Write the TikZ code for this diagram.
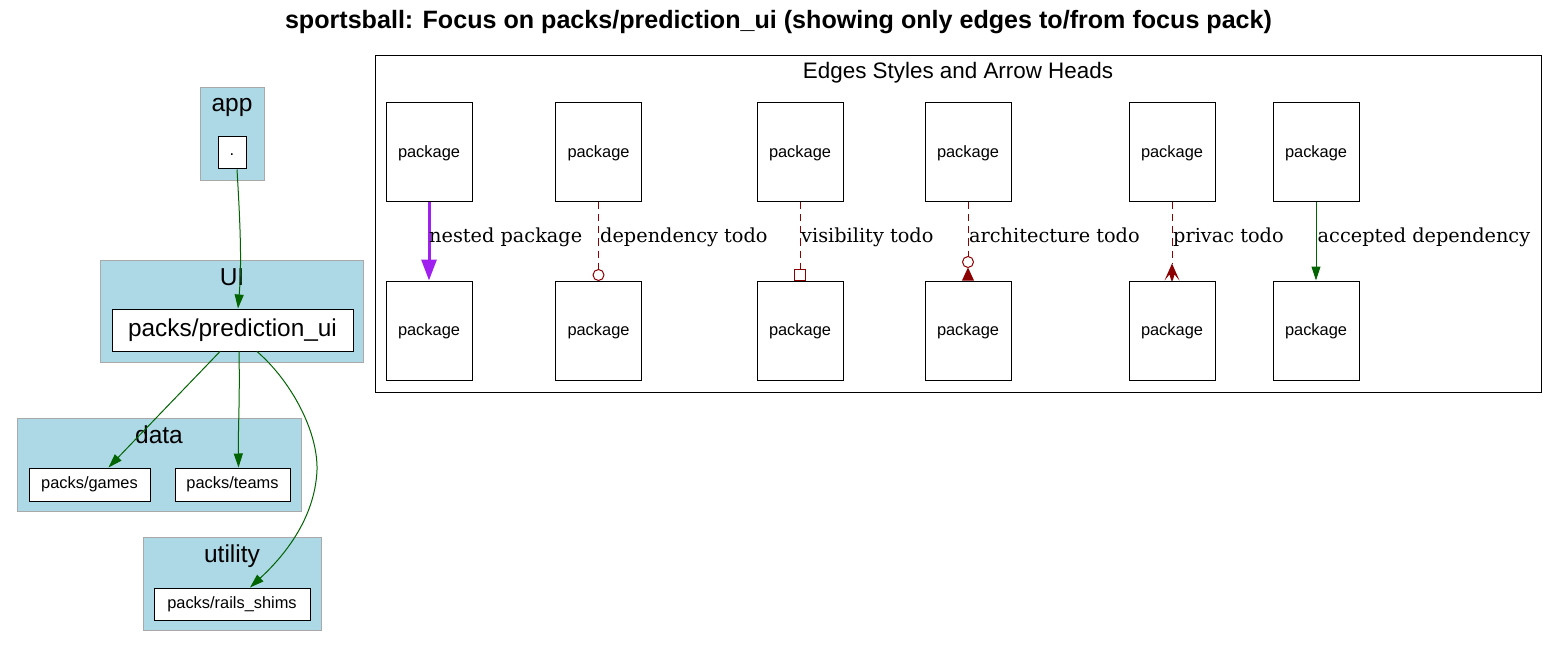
\documentclass[tikz,border=0pt]{standalone}
\usepackage{fontspec}
\setmainfont{Liberation Serif}
\setsansfont{Liberation Sans}
\newfontfamily\lblfont{DejaVu Serif}
\usetikzlibrary{arrows.meta}
\definecolor{clfill}{HTML}{ADD8E6}
\definecolor{clborder}{HTML}{A9A9A9}
\definecolor{okgreen}{HTML}{006400}
\definecolor{todored}{HTML}{8B0000}
\definecolor{nestpurple}{HTML}{A020F0}
\tikzset{
  cluster/.style={draw=clborder, fill=clfill, line width=1.3pt, inner sep=0, anchor=north west},
  cllabel/.style={font=\sffamily\fontsize{24.5}{28}\selectfont, anchor=base, inner sep=0},
  pack/.style={draw=black, fill=white, line width=1pt, inner sep=0, font=\sffamily\fontsize{16.4}{19}\selectfont},
  bigpack/.style={pack, font=\sffamily\fontsize{24.4}{28}\selectfont},
  legpack/.style={pack, minimum width=86pt, minimum height=99pt, text depth=0.1em},
  okedge/.style={draw=okgreen, line width=1pt, -{Triangle[length=14pt,width=9pt]}, okgreen},
  todoedge/.style={draw=todored, line width=1pt, dash pattern=on 7pt off 5pt},
  todotip/.style={draw=todored, line width=1pt},
  nestedge/.style={draw=nestpurple, line width=3pt, -{Triangle[length=21pt,width=15pt]}, nestpurple},
  edgelbl/.style={font=\lblfont\fontsize{19.3}{23}\selectfont, anchor=base west, inner sep=0},
}
\begin{document}
\begin{tikzpicture}[x=1pt, y=-1pt]
\useasboundingbox (0,0) rectangle (1558,647);
\fill[white] (0,0) rectangle (1558,647);

% title
\node[font=\sffamily\bfseries\fontsize{25.1}{29}\selectfont, anchor=base, inner sep=0] (title) at (778.5,29)
  {sportsball: Focus on packs/prediction\_ui (showing only edges to/from focus pack)};

% clusters
\node[cluster, minimum width=64pt, minimum height=93pt] (capp) at (200,87) {};
\node[cllabel] (lapp) at (232,112) {app};
\node[cluster, minimum width=263pt, minimum height=102pt] (cui) at (100,260) {};
\node[cllabel] (lui) at (232,285) {UI};
\node[cluster, minimum width=284pt, minimum height=93pt] (cdata) at (17,418) {};
\node[cllabel] (ldata) at (159,443.5) {data};
\node[cluster, minimum width=178pt, minimum height=93pt] (cutil) at (143,537) {};
\node[cllabel] (lutil) at (232,562.5) {utility};

% packages
\node[pack, minimum width=28pt, minimum height=32pt, text height=0.72em, text depth=0.2em] (dot) at (232,153) {.};
\node[bigpack, minimum width=241pt, minimum height=42pt] (pred) at (232.5,330) {packs/prediction\_ui};
\node[pack, minimum width=121pt, minimum height=33pt] (games) at (89.5,484.5) {packs/games};
\node[pack, minimum width=115pt, minimum height=33pt] (teams) at (232.5,484.5) {packs/teams};
\node[pack, minimum width=156pt, minimum height=32pt] (rails) at (232,604) {packs/rails\_shims};

% edges
\draw[okedge] ([xshift=5pt]dot.south) .. controls (240,220) and (242,262) .. ([xshift=5.5pt]pred.north);
\draw[okedge] ([xshift=-12.5pt]pred.south) -- ([xshift=19pt]games.north);
\draw[okedge] ([xshift=6.5pt]pred.south) .. controls (240,400) and (238,430) .. ([xshift=6pt]teams.north);
\draw[okedge] ([xshift=24.5pt]pred.south) .. controls (290,380) and (318,430) .. (317,470)
   .. controls (315,520) and (282,558) .. ([xshift=18pt]rails.north);

% legend
\node[draw=black, line width=1pt, inner sep=0, anchor=north west, minimum width=1166pt, minimum height=337pt] (legend) at (375,55) {};
\node[font=\sffamily\fontsize{22.4}{26}\selectfont, anchor=base, inner sep=0] (legtitle) at (958,79) {Edges Styles and Arrow Heads};

\node[legpack] (t1) at (429,152.5) {package};
\node[legpack] (t2) at (598.5,152.5) {package};
\node[legpack] (t3) at (800,152.5) {package};
\node[legpack] (t4) at (968,152.5) {package};
\node[legpack] (t5) at (1172,152.5) {package};
\node[legpack] (t6) at (1316,152.5) {package};
\node[legpack] (b1) at (429,330.5) {package};
\node[legpack] (b2) at (598.5,330.5) {package};
\node[legpack] (b3) at (800,330.5) {package};
\node[legpack] (b4) at (968,330.5) {package};
\node[legpack] (b5) at (1172,330.5) {package};
\node[legpack] (b6) at (1316,330.5) {package};

% nested package
\draw[nestedge] (t1.south) -- (b1.north);
\node[edgelbl] (l1) at (429,243) {nested package};

% dependency todo (odot)
\draw[todoedge] (t2.south) -- ([yshift=11pt]b2.north);
\draw[todotip] ([yshift=5.5pt]b2.north) circle (5.5pt);
\node[edgelbl] (l2) at (600,243) {dependency todo};

% visibility todo (obox)
\draw[todoedge] (t3.south) -- ([yshift=11pt]b3.north);
\draw[todotip] ([xshift=-5.5pt]b3.north) rectangle ([xshift=5.5pt,yshift=11pt]b3.north);
\node[edgelbl] (l3) at (801,243) {visibility todo};

% architecture todo (inv + odot)
\draw[todoedge] (t4.south) -- ([yshift=24pt]b4.north);
\fill[todored] ([xshift=-6pt]b4.north) -- ([yshift=13pt]b4.north) -- ([xshift=6pt]b4.north) -- cycle;
\draw[todotip] ([yshift=18.5pt]b4.north) circle (5.5pt);
\node[edgelbl] (l4) at (969,243) {architecture todo};

% privac todo (crow)
\draw[todoedge] (t5.south) -- ([yshift=17pt]b5.north);
\fill[todored] ([yshift=17pt]b5.north) -- ([xshift=-7.5pt]b5.north)
  -- ([xshift=-2.5pt,yshift=6pt]b5.north) -- ([xshift=-0.8pt]b5.north) -- ([xshift=0.8pt]b5.north)
  -- ([xshift=2.5pt,yshift=6pt]b5.north) -- ([xshift=7.5pt]b5.north) -- cycle;
\node[edgelbl] (l5) at (1173,243) {privac todo};

% accepted dependency
\draw[okedge] (t6.south) -- (b6.north);
\node[edgelbl] (l6) at (1317.5,243) {accepted dependency};
\end{tikzpicture}
\end{document}
